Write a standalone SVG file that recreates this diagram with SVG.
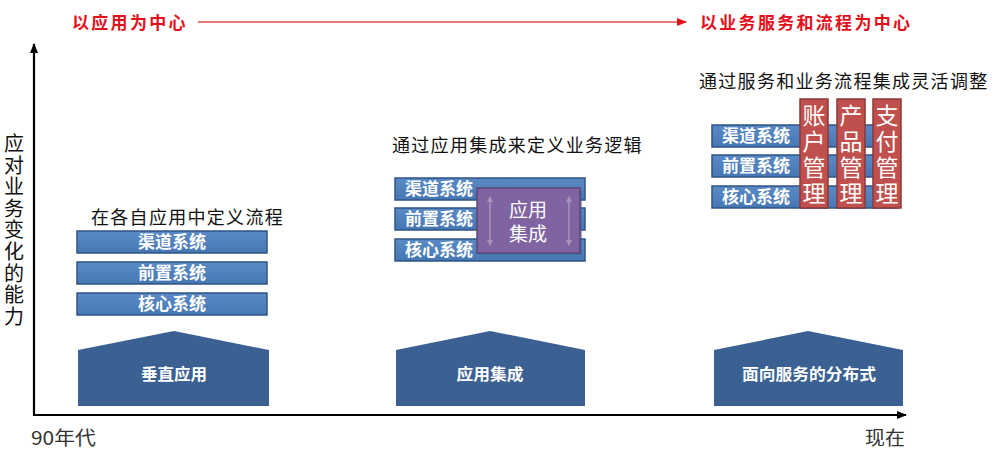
<svg xmlns="http://www.w3.org/2000/svg" width="998" height="454" viewBox="0 0 998 454">
<defs>
<style>
text{font-family:"Noto Sans CJK SC","Noto Sans",sans-serif}
.red{fill:#e3101c;font-size:17px;font-weight:bold;letter-spacing:2.3px}
.title{fill:#111;font-size:18px;letter-spacing:1.3px}
.sys{fill:url(#gBlue);stroke:#2f5483;stroke-width:1.5}
.syst{fill:#fff;font-size:17px;font-weight:bold}
.bar{fill:#c0504d;stroke:#8c3836;stroke-width:1.5}
.bart{fill:#fff;font-size:23px;text-anchor:middle}
.house{fill:#3a6192}
.houset{fill:#fff;font-size:16px;font-weight:bold;text-anchor:middle}
.axist{fill:#333;font-size:19px}
.vl{fill:#111;font-size:20px;text-anchor:middle}
</style>
<linearGradient id="gBlue" x1="0" y1="0" x2="0" y2="1">
<stop offset="0" stop-color="#5a8ac6"/>
<stop offset="1" stop-color="#4677b5"/>
</linearGradient>
<marker id="ahBlack" markerWidth="10" markerHeight="8" refX="9" refY="4" orient="auto" markerUnits="userSpaceOnUse">
<path d="M0,0 L10,4 L0,8 Z" fill="#000"/>
</marker>
<marker id="ahRed" markerWidth="10" markerHeight="8" refX="9" refY="4" orient="auto" markerUnits="userSpaceOnUse">
<path d="M0,0 L10,4 L0,8 Z" fill="#e3101c"/>
</marker>
<marker id="ahGray" markerWidth="6" markerHeight="6" refX="5" refY="3" orient="auto-start-reverse" markerUnits="userSpaceOnUse">
<path d="M0,0 L6,3 L0,6 Z" fill="#a596b8"/>
</marker>
</defs>
<rect width="998" height="454" fill="#fff"/>

<g id="connectors">
<line x1="198" y1="22" x2="686" y2="22" stroke="#e07a7a" stroke-width="2" marker-end="url(#ahRed)"/>
<line x1="34" y1="416" x2="34" y2="44" stroke="#000" stroke-width="2.2" marker-end="url(#ahBlack)"/>
<line x1="33" y1="415" x2="906" y2="415" stroke="#000" stroke-width="2.2" marker-end="url(#ahBlack)"/>
</g>

<g id="header">
<text class="red" x="72" y="28.5">以应用为中心</text>
<text class="red" x="700" y="28.5">以业务服务和流程为中心</text>
</g>

<g id="yaxis-label">
<text class="vl" x="14" y="151">应</text>
<text class="vl" x="14" y="172.6">对</text>
<text class="vl" x="14" y="194.2">业</text>
<text class="vl" x="14" y="215.8">务</text>
<text class="vl" x="14" y="237.4">变</text>
<text class="vl" x="14" y="259">化</text>
<text class="vl" x="14" y="280.6">的</text>
<text class="vl" x="14" y="302.2">能</text>
<text class="vl" x="14" y="323.8">力</text>
</g>

<g id="stage1">
<text class="title" x="91" y="224">在各自应用中定义流程</text>
<rect class="sys" x="77" y="231" width="190" height="22"/>
<text class="syst" x="172" y="248" text-anchor="middle">渠道系统</text>
<rect class="sys" x="77" y="262" width="190" height="22"/>
<text class="syst" x="172" y="279" text-anchor="middle">前置系统</text>
<rect class="sys" x="77" y="293" width="190" height="22"/>
<text class="syst" x="172" y="310" text-anchor="middle">核心系统</text>
</g>

<g id="stage2">
<text class="title" x="392" y="152">通过应用集成来定义业务逻辑</text>
<rect class="sys" x="395" y="178" width="190" height="22"/>
<text class="syst" x="405" y="195">渠道系统</text>
<rect class="sys" x="395" y="208" width="190" height="22"/>
<text class="syst" x="405" y="225">前置系统</text>
<rect class="sys" x="395" y="239" width="190" height="22"/>
<text class="syst" x="405" y="256">核心系统</text>
<rect x="479" y="190" width="103" height="65" fill="#3d5f8c" opacity="0.5"/>
<rect x="477" y="188" width="103" height="65" fill="#8064a2" stroke="#5c4776" stroke-width="1.5"/>
<line x1="490" y1="197" x2="490" y2="245" stroke="#a596b8" stroke-width="1.5" marker-start="url(#ahGray)" marker-end="url(#ahGray)"/>
<line x1="569" y1="197" x2="569" y2="245" stroke="#a596b8" stroke-width="1.5" marker-start="url(#ahGray)" marker-end="url(#ahGray)"/>
<text x="528" y="216.5" fill="#fff" text-anchor="middle" style="font-size:19px">应用</text>
<text x="528" y="241" fill="#fff" text-anchor="middle" style="font-size:19px">集成</text>
</g>

<g id="stage3">
<text class="title" x="699" y="88">通过服务和业务流程集成灵活调整</text>
<rect class="sys" x="712" y="125" width="186" height="22"/>
<text class="syst" x="722" y="142">渠道系统</text>
<rect class="sys" x="712" y="155" width="186" height="22"/>
<text class="syst" x="722" y="172">前置系统</text>
<rect class="sys" x="712" y="186" width="186" height="22"/>
<text class="syst" x="722" y="203">核心系统</text>
<g id="bar-account">
<rect class="bar" x="800" y="99" width="28" height="109"/>
<text class="bart" x="814" y="123.5">账</text>
<text class="bart" x="814" y="149.5">户</text>
<text class="bart" x="814" y="175.5">管</text>
<text class="bart" x="814" y="201.5">理</text>
</g>
<g id="bar-product">
<rect class="bar" x="837" y="99" width="28" height="109"/>
<text class="bart" x="851" y="123.5">产</text>
<text class="bart" x="851" y="149.5">品</text>
<text class="bart" x="851" y="175.5">管</text>
<text class="bart" x="851" y="201.5">理</text>
</g>
<g id="bar-payment">
<rect class="bar" x="873" y="99" width="28" height="109"/>
<text class="bart" x="887" y="123.5">支</text>
<text class="bart" x="887" y="149.5">付</text>
<text class="bart" x="887" y="175.5">管</text>
<text class="bart" x="887" y="201.5">理</text>
</g>
</g>

<g id="house1">
<polygon class="house" points="78,350 174,331 269,350 269,406 78,406"/>
<text class="houset" x="174" y="380" textLength="66" lengthAdjust="spacingAndGlyphs">垂直应用</text>
</g>
<g id="house2">
<polygon class="house" points="396,350 490,331 585,350 585,406 396,406"/>
<text class="houset" x="490" y="380" textLength="67" lengthAdjust="spacingAndGlyphs">应用集成</text>
</g>
<g id="house3">
<polygon class="house" points="714,350 808,331 903,350 903,406 714,406"/>
<text class="houset" x="809" y="380" textLength="134" lengthAdjust="spacingAndGlyphs">面向服务的分布式</text>
</g>

<g id="time-labels">
<text class="axist" x="31" y="445" textLength="65" lengthAdjust="spacingAndGlyphs">90年代</text>
<text class="axist" x="865" y="445" textLength="40" lengthAdjust="spacingAndGlyphs">现在</text>
</g>
</svg>
